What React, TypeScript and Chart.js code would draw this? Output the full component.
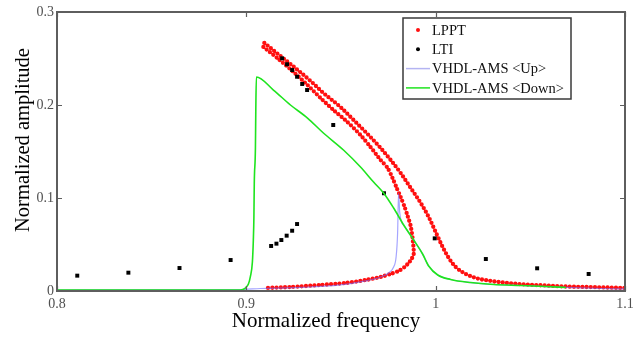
import React, { useEffect, useRef } from 'react';
import { Chart, registerables } from 'chart.js';

Chart.register(...registerables);

const FONT = '"Liberation Serif", "Times New Roman", "DejaVu Serif", serif';

// LPPT, upper branch
const lpptUpperFreq = [
  0.9095, 0.918, 0.9265, 0.9339, 0.9407, 0.9497, 0.9566, 0.964, 0.9709, 0.9762,
  0.9815, 0.9868, 0.9921, 0.9963, 1.0, 1.0037, 1.0069, 1.0106, 1.0159, 1.0212,
  1.0291, 1.0381, 1.0476, 1.0582, 1.0688, 1.0794, 1.0899, 1.1,
];
const lpptUpperAmp = [
  0.2667, 0.2527, 0.2387, 0.2258, 0.2129, 0.1978, 0.1839, 0.1688, 0.1538, 0.1409,
  0.1269, 0.1108, 0.0946, 0.0796, 0.0634, 0.0473, 0.0355, 0.0258, 0.0183, 0.014,
  0.0108, 0.0086, 0.007, 0.0059, 0.0048, 0.0043, 0.0038, 0.0032,
];

// LPPT, middle branch running into the lower branch at the fold
const lpptLowerFreq = [
  0.909, 0.9169, 0.9249, 0.9323, 0.9392, 0.946, 0.9534, 0.9603, 0.9656, 0.9709,
  0.9746, 0.9772, 0.9794, 0.9815, 0.9836, 0.9852, 0.9868, 0.9878, 0.9884,
  0.9884, 0.9873, 0.9857, 0.9836, 0.9804, 0.9762, 0.9709, 0.963, 0.9524, 0.9392,
  0.9233, 0.9101,
];
const lpptLowerAmp = [
  0.2624, 0.2495, 0.2355, 0.2215, 0.2075, 0.1946, 0.1817, 0.1677, 0.1548, 0.1409,
  0.1323, 0.1215, 0.1108, 0.1011, 0.0903, 0.0806, 0.0699, 0.057, 0.0441,
  0.0398, 0.0344, 0.0301, 0.0258, 0.0215, 0.0183, 0.0151, 0.0118, 0.0086, 0.0065,
  0.0043, 0.0032,
];

// LTI
const ltiFreq = [
  0.8107, 0.8377, 0.8647, 0.8917, 0.9131, 0.9159, 0.9185, 0.9213, 0.9242, 0.9268,
  0.9189, 0.9215, 0.9242, 0.9268, 0.9295, 0.9321, 0.9459, 0.9727, 0.9995, 1.0265,
  1.0536, 1.0808,
];
const ltiAmp = [
  0.0165, 0.0197, 0.0247, 0.0333, 0.0484, 0.0509, 0.0548, 0.0595, 0.0648, 0.072,
  0.2502, 0.2438, 0.2376, 0.2304, 0.2226, 0.2161, 0.1785, 0.1051, 0.0566, 0.0344,
  0.0244, 0.0183,
];

// VHDL-AMS, upward sweep
const upFreq = [
  0.8, 0.8968, 0.9074, 0.9286, 0.9497, 0.963, 0.9709, 0.9751, 0.9778, 0.9791,
  0.9799, 0.9804, 0.981, 0.982, 0.9831, 0.9884, 0.9931, 0.9963, 1.0011, 1.0079,
  1.0185, 1.0307, 1.045, 1.0582, 1.0688, 1.0873, 1.1,
];
const upAmp = [
  0.0011, 0.0016, 0.0027, 0.0038, 0.0065, 0.0108, 0.0151, 0.0194, 0.0258, 0.0366,
  0.0624, 0.1054, 0.0849, 0.0742, 0.071, 0.0548, 0.0398, 0.0269, 0.0172, 0.0124,
  0.0091, 0.007, 0.0059, 0.0048, 0.0038, 0.0027, 0.0022,
];

// VHDL-AMS, downward sweep
const downFreq = [
  0.8, 0.8968, 0.8995, 0.9011, 0.9021, 0.9032, 0.9037, 0.904, 0.9042, 0.9048,
  0.905, 0.9053, 0.9143, 0.9233, 0.9323, 0.9407, 0.9513, 0.9603, 0.9672, 0.9725,
  0.9778, 0.9831, 0.9884, 0.9931, 0.9963, 1.0011, 1.0079, 1.0185, 1.0307, 1.045,
  1.0582, 1.0688,
];
const downAmp = [
  0.0011, 0.0011, 0.0032, 0.0075, 0.0151, 0.0312, 0.0548, 0.0796, 0.1161, 0.1538,
  0.1946, 0.2301, 0.2161, 0.2, 0.186, 0.1699, 0.1516, 0.1333, 0.1172, 0.1054,
  0.0892, 0.071, 0.0548, 0.0398, 0.0269, 0.0172, 0.0124, 0.0091, 0.007, 0.0059,
  0.0048, 0.0038,
];

const xTicks = [0.8, 0.9, 1.0, 1.1];
const xTickLabels = ['0.8', '0.9', '1', '1.1'];
const yTicks = [0, 0.1, 0.2, 0.3];
const yTickLabels = ['0', '0.1', '0.2', '0.3'];
const legendLabels = ['LPPT', 'LTI', 'VHDL-AMS <Up>', 'VHDL-AMS <Down>'];

const RED = '#ff1010';
const BLACK = '#000000';
const BLUE = 'rgba(105, 105, 255, 0.6)';
const BLUE_KEY = '#b4b4f2';
const GREEN = '#1ee41e';
const AXIS = '#5e5e5e';

const zip = (xs: number[], ys: number[]) => xs.map((x, i) => ({ x, y: ys[i] }));

const decorPlugin = {
  id: 'decor',
  afterDatasetsDraw(chart: any) {
    const { ctx, chartArea: a, scales } = chart;
    const sx = scales.x;
    const sy = scales.y;
    ctx.save();
    ctx.strokeStyle = AXIS;
    ctx.lineWidth = 1.2;
    ctx.beginPath();
    xTicks.forEach((v) => {
      const px = Math.round(sx.getPixelForValue(v)) + 0.5;
      ctx.moveTo(px, a.bottom);
      ctx.lineTo(px, a.bottom - 5);
      ctx.moveTo(px, a.top);
      ctx.lineTo(px, a.top + 5);
    });
    yTicks.forEach((v) => {
      const py = Math.round(sy.getPixelForValue(v)) + 0.5;
      ctx.moveTo(a.left, py);
      ctx.lineTo(a.left + 5, py);
      ctx.moveTo(a.right, py);
      ctx.lineTo(a.right - 5, py);
    });
    ctx.stroke();
    ctx.lineWidth = 2;
    ctx.strokeRect(a.left, a.top, a.right - a.left, a.bottom - a.top);
    ctx.restore();
  },
  afterDraw(chart: any) {
    const { ctx, chartArea: a } = chart;
    ctx.save();

    // legend box
    const bx = a.right - 222;
    const by = a.top + 6;
    const bw = 168;
    const bh = 81;
    ctx.fillStyle = '#ffffff';
    ctx.fillRect(bx, by, bw, bh);
    ctx.strokeStyle = '#3a3a3a';
    ctx.lineWidth = 1.5;
    ctx.strokeRect(bx, by, bw, bh);

    ctx.font = `14.5px ${FONT}`;
    ctx.textBaseline = 'middle';
    ctx.textAlign = 'left';
    legendLabels.forEach((label, i) => {
      const cy = by + 12 + i * 19.3;
      if (i === 0 || i === 1) {
        ctx.fillStyle = i === 0 ? RED : BLACK;
        ctx.beginPath();
        ctx.arc(bx + 15, cy, 2, 0, Math.PI * 2);
        ctx.fill();
      } else {
        ctx.strokeStyle = i === 2 ? BLUE_KEY : GREEN;
        ctx.lineWidth = 1.5;
        ctx.beginPath();
        ctx.moveTo(bx + 3, cy);
        ctx.lineTo(bx + 27, cy);
        ctx.stroke();
      }
      ctx.fillStyle = '#111111';
      ctx.fillText(label, bx + 29, cy + 1);
    });

    // axis titles
    ctx.fillStyle = '#000000';
    ctx.textAlign = 'center';
    ctx.textBaseline = 'middle';
    ctx.font = `21px ${FONT}`;
    ctx.fillText('Normalized frequency', 326, 321);
    ctx.translate(24, 140);
    ctx.rotate(-Math.PI / 2);
    ctx.font = `20.5px ${FONT}`;
    ctx.fillText('Normalized amplitude', 0, 0);
    ctx.restore();
  },
};

export default function App() {
  const canvasRef = useRef<HTMLCanvasElement | null>(null);

  useEffect(() => {
    const canvas = canvasRef.current;
    if (!canvas) return;
    const dotted = {
      borderColor: RED,
      borderWidth: 4.3,
      borderDash: [0, 4.2],
      borderCapStyle: 'round' as const,
      pointRadius: 0,
    };
    const chart = new Chart(canvas, {
      type: 'line',
      data: {
        datasets: [
          {
            label: legendLabels[3],
            data: zip(downFreq, downAmp),
            borderColor: GREEN,
            borderWidth: 1.6,
            pointRadius: 0,
            cubicInterpolationMode: 'monotone',
            order: 0,
          },
          {
            label: legendLabels[2],
            data: zip(upFreq, upAmp),
            borderColor: BLUE,
            borderWidth: 1.2,
            pointRadius: 0,
            cubicInterpolationMode: 'monotone',
            order: 1,
          },
          {
            label: legendLabels[1],
            data: zip(ltiFreq, ltiAmp),
            showLine: false,
            pointStyle: 'rect',
            pointRadius: 2.8,
            pointBackgroundColor: BLACK,
            pointBorderWidth: 0,
            order: 2,
          },
          {
            label: legendLabels[0],
            data: zip(lpptUpperFreq, lpptUpperAmp),
            ...dotted,
            cubicInterpolationMode: 'monotone',
            order: 3,
          },
          {
            label: legendLabels[0] + ' (lower)',
            data: zip(lpptLowerFreq, lpptLowerAmp),
            ...dotted,
            tension: 0.25,
            order: 4,
          },
        ],
      },
      options: {
        animation: false,
        responsive: false,
        maintainAspectRatio: false,
        layout: { padding: { left: 0, top: 12, right: 17, bottom: 0 } },
        plugins: {
          legend: { display: false },
          tooltip: { enabled: false },
        },
        scales: {
          x: {
            type: 'linear',
            min: 0.8,
            max: 1.1,
            afterBuildTicks: (s: any) => {
              s.ticks = xTicks.map((value) => ({ value }));
            },
            afterFit: (s: any) => {
              s.height = 47;
            },
            grid: { display: false, drawTicks: false },
            border: { display: false },
            ticks: {
              padding: 5,
              color: '#505050',
              font: { family: FONT, size: 14 },
              maxRotation: 0,
              autoSkip: false,
              callback: (_v: any, i: number) => xTickLabels[i],
            },
          },
          y: {
            type: 'linear',
            min: 0,
            max: 0.3,
            afterBuildTicks: (s: any) => {
              s.ticks = yTicks.map((value) => ({ value }));
            },
            afterFit: (s: any) => {
              s.width = 57;
            },
            grid: { display: false, drawTicks: false },
            border: { display: false },
            ticks: {
              padding: 3,
              color: '#505050',
              font: { family: FONT, size: 14 },
              autoSkip: false,
              callback: (_v: any, i: number) => yTickLabels[i],
            },
          },
        },
      },
      plugins: [decorPlugin],
    });
    return () => chart.destroy();
  }, []);

  return (
    <div style={{ position: 'absolute', left: 0, top: 0, width: 642, height: 338, background: '#fff' }}>
      <canvas ref={canvasRef} width={642} height={338} />
    </div>
  );
}
